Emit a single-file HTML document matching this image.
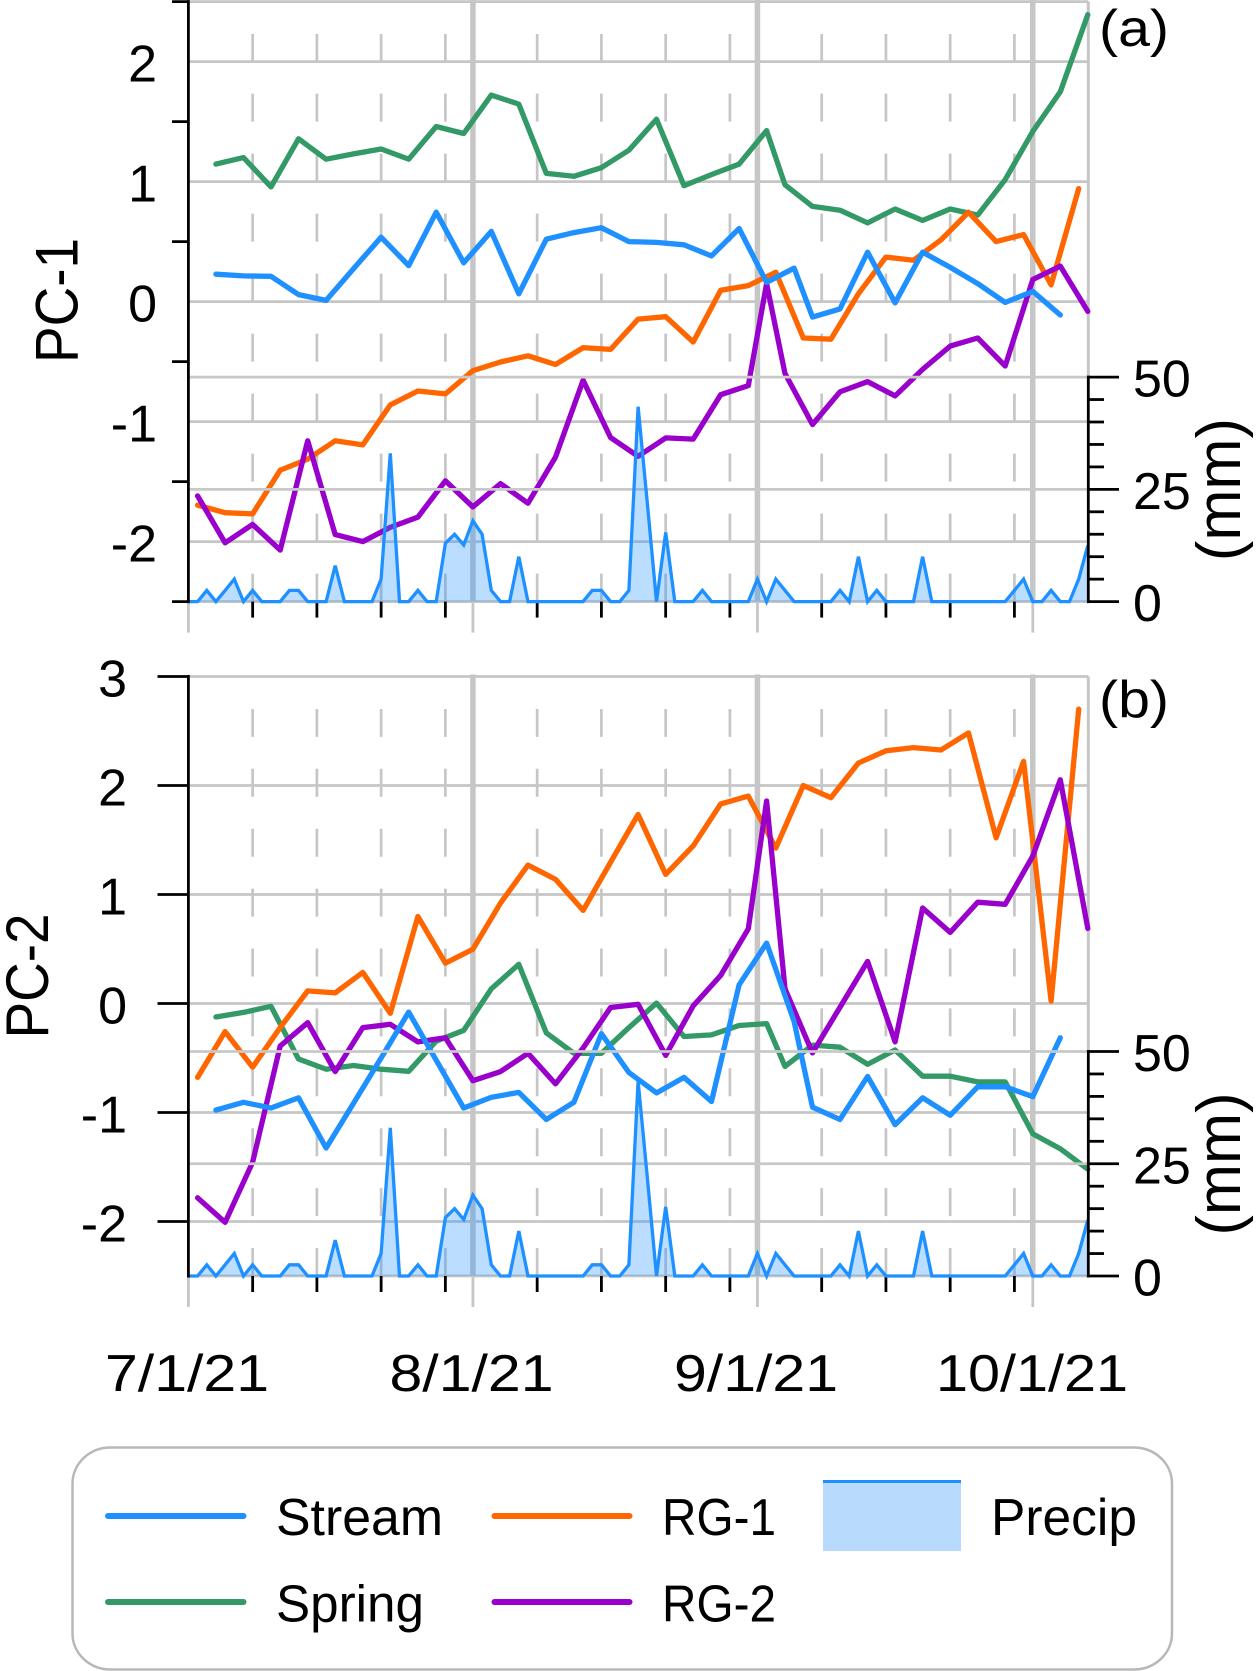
<!DOCTYPE html>
<html lang="en">
<head>
<meta charset="utf-8">
<title>PC-1 and PC-2 time series</title>
<style>
html,body{margin:0;padding:0;background:#fff;width:1256px;height:1671px;overflow:hidden}
svg{display:block}
text{font-family:"Liberation Sans",sans-serif;fill:#000}
</style>
</head>
<body>
<svg id="chart" xmlns="http://www.w3.org/2000/svg" width="1256" height="1671" viewBox="0 0 1256 1671">
  <g id="panel-a"></g>
  <g id="panel-b"></g>
  <g font-size="52">
    <text x="105" y="1391" textLength="164" lengthAdjust="spacingAndGlyphs">7/1/21</text>
    <text x="389.5" y="1391" textLength="164" lengthAdjust="spacingAndGlyphs">8/1/21</text>
    <text x="674" y="1391" textLength="164" lengthAdjust="spacingAndGlyphs">9/1/21</text>
    <text x="936" y="1391" textLength="192" lengthAdjust="spacingAndGlyphs">10/1/21</text>
  </g>
  <g>
    <rect x="72.5" y="1447.5" width="1099.5" height="222" rx="38" ry="36" fill="#fff" stroke="#b8b8b8" stroke-width="2.5"/>
    <line x1="108" y1="1516" x2="243.5" y2="1516" stroke="#1e90ff" stroke-width="6" stroke-linecap="round"/>
    <text x="276" y="1535" font-size="52" textLength="167" lengthAdjust="spacingAndGlyphs">Stream</text>
    <line x1="108" y1="1602" x2="243.5" y2="1602" stroke="#339966" stroke-width="6" stroke-linecap="round"/>
    <text x="276" y="1621.5" font-size="52" textLength="148" lengthAdjust="spacingAndGlyphs">Spring</text>
    <line x1="494.5" y1="1516" x2="629.5" y2="1516" stroke="#ff6600" stroke-width="6" stroke-linecap="round"/>
    <text x="662" y="1535" font-size="52" textLength="114" lengthAdjust="spacingAndGlyphs">RG-1</text>
    <line x1="494.5" y1="1602" x2="629.5" y2="1602" stroke="#9900cc" stroke-width="6" stroke-linecap="round"/>
    <text x="662" y="1621.5" font-size="52" textLength="114" lengthAdjust="spacingAndGlyphs">RG-2</text>
    <rect x="823" y="1481" width="138" height="70" fill="#b8dbfd"/>
    <line x1="823" y1="1481.5" x2="961" y2="1481.5" stroke="#1e90ff" stroke-width="3"/>
    <text x="991" y="1535" font-size="52" textLength="146" lengthAdjust="spacingAndGlyphs">Precip</text>
  </g>
</svg>
<script>
// ---- Data ----
const streamDays = [3,6,9,12,15,18,21,24,27,30,33,36,39,42,45,48,51,54,57,60,63,66,68,71,74,77,80,83,86,89,92,95];
const springDays = [3,6,9,12,15,18,21,24,27,30,33,36,39,42,45,48,51,54,57,60,63,65,68,71,74,77,80,83,86,89,92,95,98];
const rg1Days = [1,4,7,10,13,16,19,22,25,28,31,34,37,40,43,46,49,52,55,58,61,64,67,70,73,76,79,82,85,88,91,94,97];
const rg2Days = [1,4,7,10,13,16,19,22,25,28,31,34,37,40,43,46,49,52,55,58,61,63,65,68,71,74,77,80,83,86,89,92,95,98];

const pc1Stream = [.228,.214,.211,.058,.01,.275,.537,.30,.745,.323,.585,.065,.52,.575,.616,.50,.493,.473,.381,.609,.16,.279,-.129,-.061,.412,-.01,.412,.286,.15,-.007,.085,-.112];
const pc1Spring = [1.146,1.20,.956,1.357,1.187,1.231,1.272,1.187,1.459,1.401,1.721,1.646,1.068,1.044,1.116,1.262,1.52,.966,1.058,1.146,1.425,.973,.793,.762,.656,.772,.677,.772,.721,1.017,1.418,1.748,2.391];
const pc1Rg1 = [-1.697,-1.759,-1.769,-1.405,-1.313,-1.16,-1.194,-.861,-.745,-.769,-.575,-.503,-.452,-.524,-.384,-.398,-.146,-.126,-.337,.095,.133,.245,-.303,-.313,.065,.371,.344,.514,.745,.50,.558,.139,.942];
const pc1Rg2 = [-1.619,-2.01,-1.857,-2.071,-1.16,-1.942,-2.0,-1.881,-1.796,-1.493,-1.711,-1.517,-1.68,-1.296,-.656,-1.133,-1.289,-1.136,-1.146,-.776,-.70,.15,-.599,-1.024,-.752,-.667,-.786,-.565,-.371,-.303,-.537,.184,.296,-.082];

const pc2Stream = [-.978,-.906,-.959,-.865,-1.326,-.914,-.50,-.079,-.52,-.959,-.861,-.816,-1.064,-.906,-.277,-.633,-.82,-.678,-.899,.172,.554,-.165,-.951,-1.064,-.67,-1.112,-.865,-1.026,-.764,-.764,-.854,-.315];
const pc2Spring = [-.124,-.082,-.026,-.509,-.603,-.569,-.603,-.622,-.345,-.247,.135,.36,-.27,-.457,-.457,-.221,.004,-.303,-.288,-.202,-.184,-.577,-.382,-.401,-.558,-.427,-.667,-.667,-.719,-.719,-1.195,-1.333,-1.52];
const pc2Rg1 = [-.678,-.258,-.584,-.22,.116,.097,.285,-.09,.798,.371,.498,.921,1.27,1.139,.854,1.296,1.734,1.184,1.446,1.831,1.903,1.427,2.0,1.888,2.206,2.318,2.348,2.326,2.483,1.52,2.221,.022,2.7];
const pc2Rg2 = [-1.783,-2.007,-1.457,-.39,-.176,-.625,-.221,-.191,-.352,-.315,-.708,-.625,-.457,-.738,-.408,-.037,-.007,-.476,-.022,.258,.685,1.858,.135,-.453,-.034,.386,-.352,.876,.652,.929,.91,1.352,2.052,.689];

// Daily precipitation in mm, one value per day starting 7/1/21
const precipMm = [0,0,2.5,0,2.5,5,0,2.5,0,0,0,2.5,2.5,0,0,0,8,0,0,0,0,5,33,0,0,2.5,0,0,13,15,12.6,18,15,2.5,0,0,10,0,0,0,0,0,0,0,2.5,2.5,0,0,2.5,43.4,22,0,15.4,0,0,0,2.5,0,0,0,0,0,5,0,5,2.5,0,0,0,0,0,2.5,0,10,0,2.5,0,0,0,0,10,0,0,0,0,0,0,0,0,0,2.5,5,0,0,2.5,0,0,5,12.5];

const monthDays = [0,31,62,92];
const weekDays = [7,14,21,28,38,45,52,59,69,76,83,90];
const pc1GridValues = [2.5,2,1,0,-1,-2,-2.5];
const pc1TickValues = [2.5,1.5,.5,-.5,-1.5,-2.5];
const pc1TickLabels = [2,1,0,-1,-2];
const pc2GridValues = [3,2,1,0,-1,-2,-2.5];
const pc2TickValues = [3,2,1,0,-1,-2];
const pc2TickLabels = [3,2,1,0,-1,-2];
const precipTicks = [0,5,10,15,20,25,30,35,40,45,50];
const precipMajor = [0,25,50];

// ---- Helpers ----
const NS = 'http://www.w3.org/2000/svg';
const X0 = 188.4, PXDAY = 9.178, XR = 1088.3;
const xOf = d => X0 + d * PXDAY;
const GREY = '#c6c6c6';

function mk(parent, tag, attrs, txt) {
  const e = document.createElementNS(NS, tag);
  for (const k in attrs) e.setAttribute(k, attrs[k]);
  if (txt !== undefined) e.textContent = txt;
  parent.appendChild(e);
  return e;
}
function polyPoints(days, vals, yOf) {
  return days.map((d, i) => xOf(d).toFixed(1) + ',' + yOf(vals[i]).toFixed(1)).join(' ');
}

function drawPanel(cfg) {
  const g = document.getElementById(cfg.id);
  const yOf = v => cfg.y0 - v * cfg.pxUnit;
  const mmOf = m => cfg.base - m * 4.49;

  // horizontal grid
  cfg.grid.forEach(v => {
    const l = mk(g, 'line', {x1: X0, x2: XR, y1: yOf(v), y2: yOf(v), stroke: GREY, 'stroke-width': 2.8});
    
    
  });
  // right frame edge
  const edge = mk(g, 'line', {x1: XR, x2: XR, y1: cfg.top, y2: mmOf(50), stroke: GREY, 'stroke-width': 3});
  
  

  // weekly dashes and ticks
  weekDays.forEach(d => {
    const x = xOf(d);
    const dash = mk(g, 'line', {x1: x, x2: x, y1: cfg.base, y2: cfg.dashTop, stroke: GREY, 'stroke-width': 2.7, 'stroke-dasharray': '28 ' + (cfg.dashPeriod - 28)});
    
    
    const t = mk(g, 'line', {x1: x, x2: x, y1: cfg.base, y2: cfg.base + 16, stroke: '#000', 'stroke-width': 2.8});
    
    
  });
  // month lines
  monthDays.forEach(d => {
    const x = xOf(d);
    if (d > 0) {
      const m = mk(g, 'line', {x1: x, x2: x, y1: cfg.monthTop, y2: cfg.base, stroke: GREY, 'stroke-width': 5.5});
      
      
    }
    const s = mk(g, 'line', {x1: x, x2: x, y1: cfg.base, y2: cfg.base + 31, stroke: GREY, 'stroke-width': 2.8});
    
    
  });

  // series
  const seriesStyle = {'fill': 'none', 'stroke-width': 5.3, 'stroke-linejoin': 'round', 'stroke-linecap': 'round'};
  const sSpring = mk(g, 'polyline', Object.assign({points: polyPoints(springDays, cfg.spring, yOf), stroke: '#339966'}, seriesStyle));
  
  
  const sRg1 = mk(g, 'polyline', Object.assign({points: polyPoints(rg1Days, cfg.rg1, yOf), stroke: '#ff6600'}, seriesStyle));
  
  
  const sRg2 = mk(g, 'polyline', Object.assign({points: polyPoints(rg2Days, cfg.rg2, yOf), stroke: '#9900cc'}, seriesStyle));
  
  
  const sStream = mk(g, 'polyline', Object.assign({points: polyPoints(streamDays, cfg.stream, yOf), stroke: '#1e90ff'}, seriesStyle));
  
  

  // precip overlay gridlines
  [25, 50].forEach(m => {
    const l = mk(g, 'line', {x1: 187, x2: XR, y1: mmOf(m), y2: mmOf(m), stroke: '#c8c8c8', 'stroke-width': 2.8});
    
    
  });

  // precip area and line
  const pts = precipMm.map((m, d) => xOf(d).toFixed(1) + ',' + mmOf(m).toFixed(1));
  const area = mk(g, 'polygon', {points: X0 + ',' + cfg.base + ' ' + pts.join(' ') + ' ' + xOf(precipMm.length - 1).toFixed(1) + ',' + cfg.base, fill: '#1e90ff', 'fill-opacity': .3});
  
  
  const pline = mk(g, 'polyline', {points: pts.join(' '), fill: 'none', stroke: '#1e90ff', 'stroke-width': 3.3, 'stroke-linejoin': 'miter'});
  
  

  // left axis
  const ax = mk(g, 'line', {x1: X0, x2: X0, y1: cfg.top - 1.5, y2: cfg.base + 1.5, stroke: '#000', 'stroke-width': 2.8});
  
  
  cfg.ticks.forEach(v => {
    const t = mk(g, 'line', {x1: cfg.tickX, x2: X0, y1: yOf(v), y2: yOf(v), stroke: '#000', 'stroke-width': 2.8});
    
    
  });
  cfg.labels.forEach(v => {
    const t = mk(g, 'text', {x: cfg.labelX, y: yOf(v) + 20, 'font-size': 52, 'text-anchor': 'end'}, String(v));
    
    
  });
  const title = mk(g, 'text', {transform: 'translate(' + cfg.titleX + ',' + cfg.titleY + ') rotate(-90)', 'font-size': 60, 'text-anchor': 'middle', textLength: 125, lengthAdjust: 'spacingAndGlyphs'}, cfg.title);
  
  

  // right axis
  const rax = mk(g, 'line', {x1: XR, x2: XR, y1: mmOf(50) - 1.5, y2: cfg.base + 1.5, stroke: '#000', 'stroke-width': 2.8});
  
  
  precipTicks.forEach(m => {
    const major = precipMajor.includes(m);
    const t = mk(g, 'line', {x1: XR, x2: major ? 1119 : 1104, y1: mmOf(m), y2: mmOf(m), stroke: '#000', 'stroke-width': 2.8});
    
    
  });
  precipMajor.forEach(m => {
    const t = mk(g, 'text', {x: 1133, y: mmOf(m) + 19.5, 'font-size': 52}, String(m));
    
    
  });
  const unit = mk(g, 'text', {transform: 'translate(1240,' + (cfg.base - 112) + ') rotate(-90)', 'font-size': 62, 'text-anchor': 'middle', textLength: 143, lengthAdjust: 'spacingAndGlyphs'}, '(mm)');
  
  

  // panel letter
  const letter = mk(g, 'text', {x: 1099, y: cfg.letterY, 'font-size': 52, textLength: 70, lengthAdjust: 'spacingAndGlyphs'}, cfg.letter);
  
  
}

drawPanel({
  id: 'panel-a', y0: 301.6, pxUnit: 120, base: 601.6, top: 1.6, monthTop: 0, dashTop: 34, dashPeriod: 60,
  grid: pc1GridValues, ticks: pc1TickValues, labels: pc1TickLabels, tickX: 172, labelX: 157,
  stream: pc1Stream, spring: pc1Spring, rg1: pc1Rg1, rg2: pc1Rg2,
  title: 'PC-1', titleX: 77.5, titleY: 300.5, letter: '(a)', letterY: 46
});
drawPanel({
  id: 'panel-b', y0: 1003.5, pxUnit: 109, base: 1276, top: 676.5, monthTop: 674.5, dashTop: 709, dashPeriod: 59.9,
  grid: pc2GridValues, ticks: pc2TickValues, labels: pc2TickLabels, tickX: 157.5, labelX: 127,
  stream: pc2Stream, spring: pc2Spring, rg1: pc2Rg1, rg2: pc2Rg2,
  title: 'PC-2', titleX: 48, titleY: 976, letter: '(b)', letterY: 717
});
</script>
</body>
</html>
